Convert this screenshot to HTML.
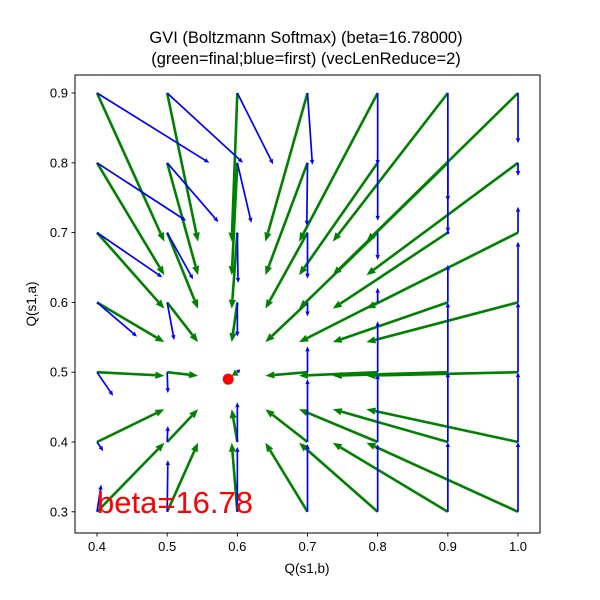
<!DOCTYPE html>
<html><head><meta charset="utf-8"><style>
body{margin:0;background:#fff;}
svg{display:block;font-family:"Liberation Sans","DejaVu Sans",sans-serif;}
</style></head><body>
<svg id="chart" width="600" height="600" viewBox="0 0 600 600" xmlns="http://www.w3.org/2000/svg">
<rect width="600" height="600" fill="#fff"/>
<text x="306" y="43" font-size="16.5" text-anchor="middle">GVI (Boltzmann Softmax) (beta=16.78000)</text>
<text x="306" y="64" font-size="16.5" text-anchor="middle">(green=final;blue=first) (vecLenReduce=2)</text>
<g id="marks"></g>
<rect x="75" y="75" width="465" height="458" fill="none" stroke="#000" stroke-width="1"/>
<g id="ticks"></g>
<text x="307" y="573" font-size="13.5" text-anchor="middle">Q(s1,b)</text>
<text x="36" y="304" font-size="13.5" text-anchor="middle" transform="rotate(-90 36 304)">Q(s1,a)</text>
</svg>
<script>
const gridX = [0.4,0.5,0.6,0.7,0.8,0.9,1.0];
const gridY = [0.9,0.8,0.7,0.6,0.5,0.4,0.3];
const xTicks = [0.4,0.5,0.6,0.7,0.8,0.9,1.0];
const yTicks = [0.3,0.4,0.5,0.6,0.7,0.8,0.9];
const xTickLabels = ["0.4","0.5","0.6","0.7","0.8","0.9","1.0"];
const yTickLabels = ["0.3","0.4","0.5","0.6","0.7","0.8","0.9"];
// green (final) vectors, rows = gridY, cols = gridX
const greenU = [0.096,0.044,-0.008,-0.060,-0.112,-0.164,-0.216];
const greenV = [-0.213,-0.161,-0.109,-0.057,-0.005,0.047,0.099];
// blue (first) vectors, rows = gridY, cols = gridX
const blueU = [
 [0.160,0.108,0.051,0.007,0,0,0],
 [0.127,0.073,0.020,-0.001,0,0,0],
 [0.093,0.037,0.001,0,0,0,0],
 [0.057,0.010,0,0,0,0,0],
 [0.023,0.001,0.004,0,0,0,0],
 [0.009,0.001,0,0,0,0,0],
 [0.006,0.001,0,0,0,0,0]];
const blueV = [
 [-0.100,-0.100,-0.102,-0.103,-0.103,-0.155,-0.072],
 [-0.083,-0.085,-0.086,-0.090,-0.083,-0.100,-0.019],
 [-0.064,-0.067,-0.072,-0.066,-0.039,0.000,0.037],
 [-0.049,-0.054,-0.049,-0.020,0.021,0.054,0.087],
 [-0.034,-0.030,0.004,0.037,0.073,0.100,0.100],
 [-0.013,0.023,0.057,0.090,0.097,0.100,0.100],
 [0.039,0.074,0.093,0.097,0.097,0.100,0.100]];
const optimum = [0.587,0.490];
const annotation = "beta=16.78";

const NS="http://www.w3.org/2000/svg";
const X = v => 97 + (v-0.4)*701.7;
const Y = v => 93 + (0.9-v)*698;
const marks = document.getElementById('marks');
const ticks = document.getElementById('ticks');
function mk(tag, parent, attrs){const e=document.createElementNS(NS,tag);for(const k in attrs)e.setAttribute(k,attrs[k]);parent.appendChild(e);return e;}
function arrow(x0,y0,x1,y1,color,w,hl,hw,name){
  const g=mk('g',marks,{});
  
  
  const dx=x1-x0, dy=y1-y0, L=Math.hypot(dx,dy);
  if(L<0.5){mk('circle',g,{cx:x0,cy:y0,r:w*0.9,fill:color});return;}
  const ux=dx/L, uy=dy/L, h=Math.min(hl,L*0.9);
  const bx=x1-ux*h, by=y1-uy*h;
  mk('line',g,{x1:x0,y1:y0,x2:bx,y2:by,stroke:color,'stroke-width':w});
  mk('polygon',g,{points:`${x1},${y1} ${bx-uy*hw},${by+ux*hw} ${bx+uy*hw},${by-ux*hw}`,fill:color});
}
gridY.forEach((gy,r)=>gridX.forEach((gx,c)=>{
  const u=greenU[c], v=greenV[r];
  arrow(X(gx),Y(gy),X(gx+u),Y(gy+v),'#008000',2.6,9,3.6,'final-vector');
}));
gridY.forEach((gy,r)=>gridX.forEach((gx,c)=>{
  arrow(X(gx),Y(gy),X(gx+blueU[r][c]),Y(gy+blueV[r][c]),'#0000ff',1.7,5,2.2,'first-vector');
}));
const dot=mk('circle',marks,{cx:X(optimum[0]),cy:Y(optimum[1]),r:5.5,fill:'#ff0000'});


const ann=mk('text',marks,{x:97,y:513,'font-size':31,fill:'#ff0000'});
ann.textContent=annotation;


xTicks.forEach((t,i)=>{
  const x=X(t);
  const l=mk('line',ticks,{x1:x,y1:533,x2:x,y2:536.5,stroke:'#000','stroke-width':0.9});
  
  
  const tx=mk('text',ticks,{x:x,y:551,'font-size':13,'text-anchor':'middle'});
  tx.textContent=xTickLabels[i];
  
  
});
yTicks.forEach((t,i)=>{
  const y=Y(t);
  const l=mk('line',ticks,{x1:71.5,y1:y,x2:75,y2:y,stroke:'#000','stroke-width':0.9});
  
  
  const tx=mk('text',ticks,{x:68,y:y+4.5,'font-size':13,'text-anchor':'end'});
  tx.textContent=yTickLabels[i];
  
  
});
</script>
</body></html>
